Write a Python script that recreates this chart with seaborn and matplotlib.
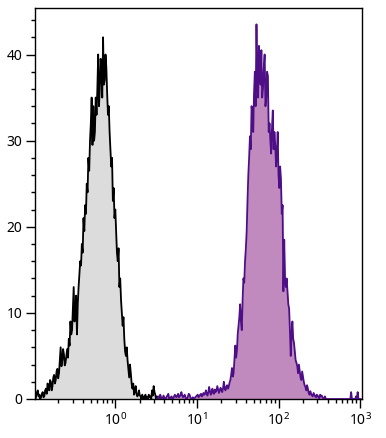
import numpy as np
import matplotlib
matplotlib.use("Agg")
import matplotlib.pyplot as plt
import seaborn as sns
from matplotlib.ticker import MultipleLocator, LogLocator, NullFormatter

# ---- data: histogram counts on log10 bins (bin width 0.01 decade) ----
bin_width = 0.01
black_start = -0.99   # log10 of first bin centre (control)
black_counts = [
    0.5, 0.0, 0.3, 0.8, 1.0, 0.3, 0.5, 0.0, 0.2, 0.6,
    0.8, 0.2, 0.3, 1.0, 1.2, 0.6, 1.8, 1.3, 1.0, 2.2,
    2.0, 1.0, 1.5, 2.5, 2.8, 1.8, 2.2, 3.2, 3.5, 2.4,
    3.0, 4.5, 6.0, 3.8, 4.5, 5.8, 5.2, 3.9, 4.2, 5.0,
    5.8, 4.8, 7.0, 6.2, 9.0, 7.5, 8.0, 10.5, 13.0, 9.0,
    10.0, 12.0, 7.5, 11.0, 13.0, 14.5, 16.0, 15.5, 18.0, 17.0,
    21.0, 19.5, 22.5, 21.5, 25.0, 24.0, 28.0, 26.5, 30.0, 32.0,
    35.0, 29.5, 34.0, 30.0, 31.0, 35.0, 33.0, 36.0, 40.0, 34.0,
    36.0, 39.5, 38.0, 35.0, 42.0, 36.5, 37.0, 40.0, 38.5, 35.5,
    33.0, 34.0, 31.0, 29.0, 27.0, 28.0, 23.0, 24.5, 21.0, 22.0,
    19.5, 17.0, 16.0, 17.5, 13.0, 14.0, 11.5, 10.0, 8.5, 9.5,
    7.0, 5.5, 5.0, 6.0, 4.5, 3.5, 2.5, 4.0, 3.0, 1.8,
    1.2, 1.8, 0.5, 0.9, 1.5, 0.6, 0.3, 0.5, 1.0, 0.4,
    0.3, 0.0, 0.5, 0.2, 0.0, 0.3, 0.5, 0.0, 0.2, 0.0,
    0.5, 0.2, 0.3, 0.0, 1.0, 0.4, 1.5, 0.8, 0.5, 0.0,
    0.3, 0.0, 0.0, 0.2, 0.4, 0.0, 0.0, 0.0, 0.2, 0.0,
    0.0,
]
purple_start = 0.51   # log10 of first bin centre (stained sample)
purple_counts = [
    0.0, 0.0, 0.3, 0.0, 0.5, 0.2, 0.0, 0.0, 0.4, 0.2,
    0.0, 0.0, 0.3, 0.4, 0.6, 0.0, 0.0, 0.2, 0.3, 0.0,
    0.0, 0.3, 0.5, 0.3, 0.2, 0.4, 0.6, 0.2, 0.3, 0.5,
    0.8, 0.4, 0.2, 0.3, 0.5, 0.2, 0.0, 0.0, 0.3, 0.6,
    0.5, 0.2, 0.0, 0.0, 0.2, 0.0, 0.0, 0.2, 0.3, 0.4,
    0.5, 0.2, 0.3, 0.5, 0.6, 0.3, 0.4, 0.7, 0.5, 0.6,
    1.0, 0.6, 0.4, 0.8, 1.4, 0.9, 0.5, 0.8, 1.2, 0.7,
    0.6, 1.1, 0.8, 1.0, 1.5, 1.1, 0.7, 1.0, 1.3, 1.0,
    0.8, 1.2, 2.0, 1.3, 1.0, 1.4, 1.6, 1.2, 1.4, 1.9,
    2.2, 2.8, 3.6, 2.6, 3.0, 4.5, 6.2, 4.8, 5.5, 7.5,
    8.5, 9.5, 11.0, 9.0, 8.0, 11.5, 14.0, 13.5, 16.0, 17.5,
    19.5, 23.0, 26.0, 28.0, 30.5, 29.0, 34.0, 33.0, 31.0, 35.5,
    38.0, 34.0, 43.5, 37.0, 35.0, 41.0, 39.0, 36.5, 40.5, 35.0,
    36.0, 38.5, 40.0, 34.0, 35.0, 38.0, 37.5, 31.0, 32.0, 30.0,
    28.5, 31.5, 33.5, 29.0, 31.0, 29.5, 27.0, 28.5, 31.0, 26.0,
    24.5, 27.0, 25.5, 21.5, 22.5, 12.5, 18.5, 14.0, 13.0, 14.0,
    12.5, 11.0, 10.5, 8.0, 5.0, 7.5, 9.0, 7.0, 6.5, 5.5,
    4.5, 4.2, 3.8, 3.0, 4.0, 3.2, 2.5, 2.2, 3.2, 2.6,
    2.0, 1.6, 1.4, 1.0, 1.6, 1.2, 0.7, 0.5, 0.9, 0.6,
    0.4, 0.3, 0.7, 0.5, 0.3, 0.2, 0.5, 0.4, 0.2, 0.0,
    0.5, 0.3, 0.4, 0.2, 0.0, 0.0, 0.3, 0.0, 0.0, 0.0,
    0.0, 0.0, 0.0, 0.0, 0.0, 0.0, 0.0, 0.0, 0.0, 0.0,
    0.0, 0.0, 0.0, 0.0, 0.0, 0.0, 0.0, 0.0, 0.0, 0.0,
    0.0, 0.0, 0.0, 0.0, 0.0, 0.0, 0.0, 0.0, 0.8, 0.0,
    0.0, 0.0, 0.0, 0.0, 0.3, 0.0, 0.8, 0.0, 0.0, 0.0,
    0.0,
]
y_ticks = [0, 10, 20, 30, 40]

# ---- styling ----
sns.set_style("ticks")
plt.rcParams["font.family"] = ["Noto Sans", "DejaVu Sans"]
plt.rcParams["mathtext.default"] = "regular"

fig = plt.figure(figsize=(3.86, 4.38), dpi=100)
ax = fig.add_axes([35 / 386, 39 / 438, 327 / 386, 391 / 438])

def draw(start, counts, fill, edge):
    n = len(counts)
    x = 10 ** (start + bin_width * np.arange(n))
    y = np.asarray(counts, dtype=float)
    ax.fill_between(x, 0, y, color=fill, linewidth=0, zorder=2)
    sns.lineplot(x=x, y=y, ax=ax, color=edge, linewidth=1.3,
                 estimator=None, sort=False, zorder=3)

draw(black_start, black_counts, "#dcdcdc", "#000000")
draw(purple_start, purple_counts, "#c08abf", "#4e0f86")

ax.set_xscale("log")
ax.set_xlim(0.1037, 1055)
ax.set_ylim(0, 45.4)
ax.set_yticks(y_ticks)
ax.yaxis.set_minor_locator(MultipleLocator(2))
ax.xaxis.set_major_locator(LogLocator(base=10, numticks=10))
ax.xaxis.set_minor_locator(LogLocator(base=10, subs=np.arange(2, 10), numticks=20))
ax.xaxis.set_minor_formatter(NullFormatter())

for s in ax.spines.values():
    s.set_linewidth(1.0)
    s.set_color("black")
ax.tick_params(axis="both", which="major", direction="out", length=6.5,
               width=1.0, labelsize=10, pad=2.5, colors="black")
ax.tick_params(axis="x", which="major", pad=3.5)
ax.tick_params(axis="both", which="minor", direction="out", length=3,
               width=1.0, colors="black")
ax.set_xlabel("")
ax.set_ylabel("")

fig.savefig("out.png", dpi=100)
